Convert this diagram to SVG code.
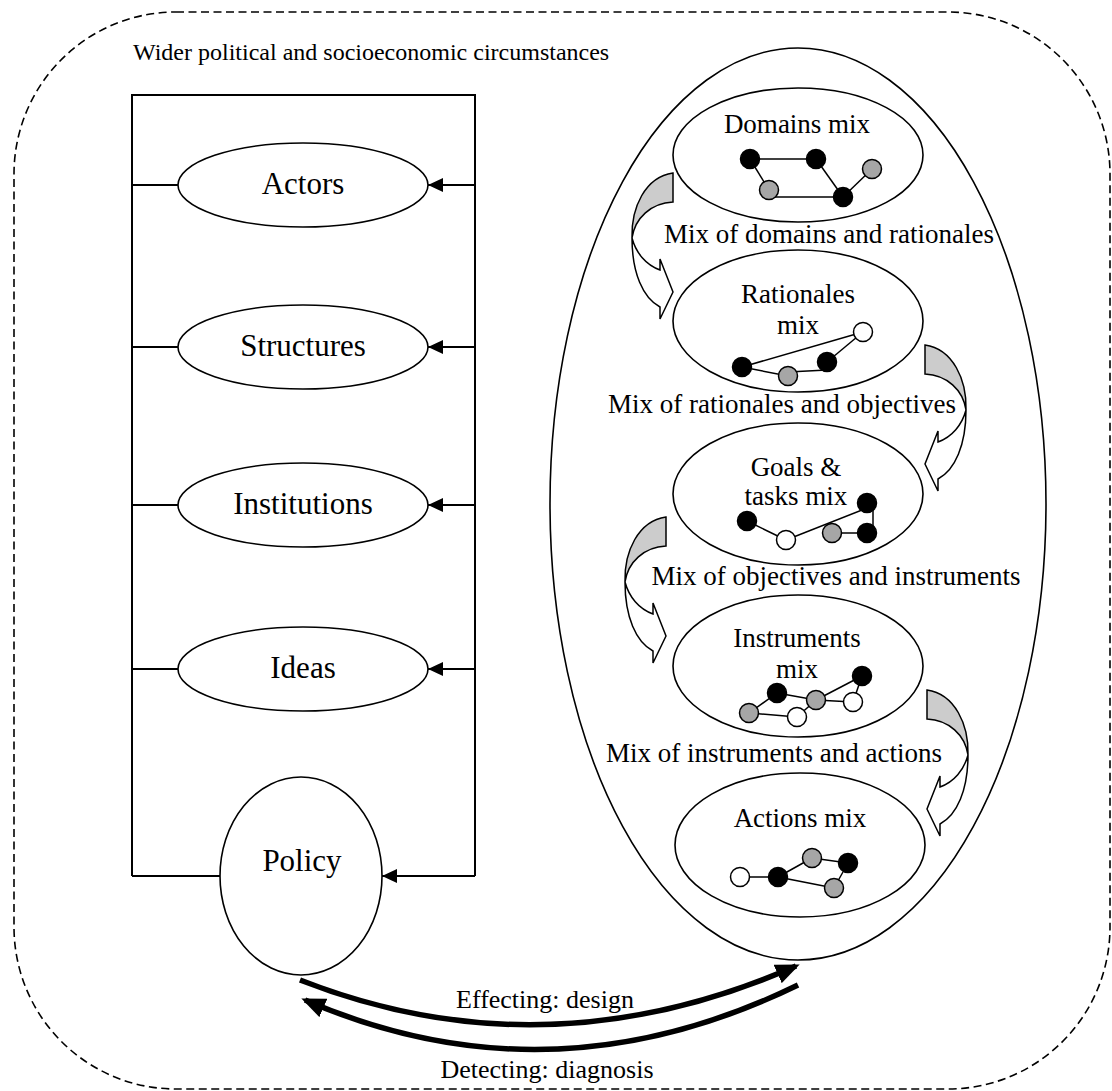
<svg xmlns="http://www.w3.org/2000/svg" width="1112" height="1091" viewBox="0 0 1112 1091">
  <defs>
    <style>
      text { font-family: "Liberation Serif", "Times New Roman", serif; fill: #000; }
      .big { font-size: 31px; text-anchor: middle; }
      .mix { font-size: 27px; text-anchor: middle; }
      .band { font-size: 27px; text-anchor: middle; }
      .cap { font-size: 26px; text-anchor: middle; }
      .outline { fill: #fff; stroke: #000; stroke-width: 1.6; }
      .frame { fill: none; stroke: #000; stroke-width: 2; }
      .link { fill: none; stroke: #000; stroke-width: 2; }
      .edge { stroke: #000; stroke-width: 1.5; }
      .k { fill: #000; stroke: #000; stroke-width: 1.5; }
      .g { fill: #a6a6a6; stroke: #000; stroke-width: 1.5; }
      .w { fill: #fff; stroke: #000; stroke-width: 1.5; }
      .fold { fill: #cccccc; stroke: #000; stroke-width: 1.5; }
      .front { fill: #fff; stroke: #000; stroke-width: 1.5; }
      .loop { fill: none; stroke: #000; stroke-width: 5.5; }
    </style>
    <marker id="tri" markerWidth="15" markerHeight="14" refX="15" refY="7" orient="auto" markerUnits="userSpaceOnUse">
      <path d="M0,0 L15,7 L0,14 Z" fill="#000"/>
    </marker>
    <marker id="bigtri" markerWidth="24" markerHeight="20" refX="20" refY="10" orient="auto" markerUnits="userSpaceOnUse">
      <path d="M0,0 L24,10 L0,20 Z" fill="#000"/>
    </marker>
    <!-- folded curved block arrow, tail at origin, bulging left, head pointing right -->
    <g id="bend">
      <path class="fold" d="M0,0 L0,29 C-22,30 -38,45 -41,65 C-42,35 -28,4 0,0 Z"/>
      <path class="front" d="M-41,65 C-41,100 -30,125 -13,134 L-13,146 L0,119 L-13,86 L-13,97 C-27,92 -37,80 -41,65 Z"/>
    </g>
  </defs>

  <rect width="1112" height="1091" fill="#fff"/>

  <!-- surrounding context -->
  <g id="context">
    <rect x="14" y="12" width="1096" height="1077" rx="162" ry="162" fill="none" stroke="#000" stroke-width="1.6" stroke-dasharray="8,4.5"/>
    <text x="133" y="60" style="font-size:24px">Wider political and socioeconomic circumstances</text>
  </g>

  <!-- connectors -->
  <g id="connectors">
    <path class="frame" d="M132,876 L132,95 L475,95 L475,876"/>
    <path class="link" d="M132,185 H178"/>
    <path class="link" d="M132,347 H178"/>
    <path class="link" d="M132,505 H178"/>
    <path class="link" d="M132,669 H178"/>
    <path class="link" d="M132,876 H220"/>
    <path class="link" d="M475,185 H428" marker-end="url(#tri)"/>
    <path class="link" d="M475,347 H428" marker-end="url(#tri)"/>
    <path class="link" d="M475,505 H428" marker-end="url(#tri)"/>
    <path class="link" d="M475,669 H428" marker-end="url(#tri)"/>
    <path class="link" d="M475,876 H382" marker-end="url(#tri)"/>
    <path class="loop" d="M300,980 Q545,1076 796,966" marker-end="url(#bigtri)"/>
    <path class="loop" d="M798,985 Q550,1106 305,1000" marker-end="url(#bigtri)"/>
    <text class="cap" x="545" y="1008">Effecting: design</text>
    <text class="cap" x="547" y="1078">Detecting: diagnosis</text>
  </g>

  <!-- left column -->
  <g id="actors">
    <ellipse class="outline" cx="303" cy="185" rx="125" ry="42"/>
    <text class="big" x="303" y="194">Actors</text>
  </g>
  <g id="structures">
    <ellipse class="outline" cx="303" cy="347" rx="125" ry="42"/>
    <text class="big" x="303" y="356">Structures</text>
  </g>
  <g id="institutions">
    <ellipse class="outline" cx="303" cy="505" rx="125" ry="42"/>
    <text class="big" x="303" y="514">Institutions</text>
  </g>
  <g id="ideas">
    <ellipse class="outline" cx="303" cy="669" rx="125" ry="42"/>
    <text class="big" x="303" y="678">Ideas</text>
  </g>
  <g id="policy">
    <ellipse class="outline" cx="301" cy="876" rx="81" ry="99"/>
    <text class="big" x="302" y="871">Policy</text>
  </g>

  <!-- policy mix container -->
  <g id="policy-mix">
    <ellipse cx="798" cy="504" rx="248" ry="456" fill="none" stroke="#000" stroke-width="1.6"/>
  </g>

  <g id="domains-mix">
    <ellipse class="outline" cx="798" cy="155" rx="125" ry="67"/>
    <text class="mix" x="797" y="133">Domains mix</text>
    <line class="edge" x1="750" y1="159" x2="816" y2="159"/>
    <line class="edge" x1="750" y1="159" x2="769" y2="190"/>
    <line class="edge" x1="769" y1="197" x2="843" y2="197"/>
    <line class="edge" x1="816" y1="159" x2="843" y2="197"/>
    <line class="edge" x1="843" y1="197" x2="872" y2="169"/>
    <circle class="k" cx="750" cy="159" r="9.5"/>
    <circle class="k" cx="816" cy="159" r="9.5"/>
    <circle class="g" cx="872" cy="169" r="9.5"/>
    <circle class="g" cx="769" cy="190" r="9.5"/>
    <circle class="k" cx="843" cy="197" r="9.5"/>
  </g>

  <g id="rationales-mix">
    <ellipse class="outline" cx="798" cy="321" rx="125" ry="71"/>
    <text class="mix" x="798" y="303">Rationales</text>
    <text class="mix" x="798" y="334">mix</text>
    <line class="edge" x1="742" y1="367" x2="863" y2="332"/>
    <line class="edge" x1="742" y1="367" x2="788" y2="376"/>
    <line class="edge" x1="788" y1="372" x2="827" y2="370"/>
    <line class="edge" x1="827" y1="362" x2="863" y2="332"/>
    <circle class="w" cx="863" cy="332" r="9.5"/>
    <circle class="k" cx="742" cy="367" r="9.5"/>
    <circle class="g" cx="788" cy="376" r="9.5"/>
    <circle class="k" cx="827" cy="362" r="9.5"/>
  </g>

  <g id="goals-tasks-mix">
    <ellipse class="outline" cx="798" cy="494" rx="125" ry="71"/>
    <text class="mix" x="796" y="476">Goals &amp;</text>
    <text class="mix" x="796" y="505">tasks mix</text>
    <line class="edge" x1="747" y1="521" x2="786" y2="540"/>
    <line class="edge" x1="786" y1="540" x2="867" y2="508"/>
    <line class="edge" x1="832" y1="533" x2="867" y2="533"/>
    <line class="edge" x1="873" y1="503" x2="873" y2="533"/>
    <circle class="k" cx="747" cy="521" r="9.5"/>
    <circle class="w" cx="786" cy="540" r="9.5"/>
    <circle class="g" cx="832" cy="533" r="9.5"/>
    <circle class="k" cx="867" cy="533" r="9.5"/>
    <circle class="k" cx="867" cy="503" r="9.5"/>
  </g>

  <g id="instruments-mix">
    <ellipse class="outline" cx="798" cy="666" rx="125" ry="71"/>
    <text class="mix" x="797" y="647">Instruments</text>
    <text class="mix" x="797" y="678">mix</text>
    <line class="edge" x1="749" y1="713" x2="777" y2="693"/>
    <line class="edge" x1="777" y1="693" x2="816" y2="700"/>
    <line class="edge" x1="749" y1="713" x2="797" y2="717"/>
    <line class="edge" x1="797" y1="717" x2="816" y2="700"/>
    <line class="edge" x1="816" y1="700" x2="862" y2="676"/>
    <line class="edge" x1="816" y1="700" x2="853" y2="702"/>
    <line class="edge" x1="853" y1="702" x2="862" y2="676"/>
    <circle class="k" cx="777" cy="693" r="9.5"/>
    <circle class="g" cx="749" cy="713" r="9.5"/>
    <circle class="w" cx="797" cy="717" r="9.5"/>
    <circle class="g" cx="816" cy="700" r="9.5"/>
    <circle class="w" cx="853" cy="702" r="9.5"/>
    <circle class="k" cx="862" cy="676" r="9.5"/>
  </g>

  <g id="actions-mix">
    <ellipse class="outline" cx="800" cy="845" rx="125" ry="72"/>
    <text class="mix" x="800" y="827">Actions mix</text>
    <line class="edge" x1="740" y1="877" x2="778" y2="877"/>
    <line class="edge" x1="778" y1="877" x2="812" y2="858"/>
    <line class="edge" x1="812" y1="858" x2="848" y2="863"/>
    <line class="edge" x1="848" y1="863" x2="834" y2="888"/>
    <line class="edge" x1="778" y1="877" x2="834" y2="888"/>
    <circle class="w" cx="740" cy="877" r="9.5"/>
    <circle class="k" cx="778" cy="877" r="9.5"/>
    <circle class="g" cx="812" cy="858" r="9.5"/>
    <circle class="k" cx="848" cy="863" r="9.5"/>
    <circle class="g" cx="834" cy="888" r="9.5"/>
  </g>

  <!-- transitions between mixes -->
  <g id="transitions">
    <text class="band" x="829" y="243">Mix of domains and rationales</text>
    <text class="band" x="782" y="413">Mix of rationales and objectives</text>
    <text class="band" x="836" y="585">Mix of objectives and instruments</text>
    <text class="band" x="774" y="762">Mix of instruments and actions</text>
    <use href="#bend" transform="translate(673,173)"/>
    <use href="#bend" transform="translate(925,345) scale(-1,1)"/>
    <use href="#bend" transform="translate(666,517)"/>
    <use href="#bend" transform="translate(927,690) scale(-1,1)"/>
  </g>
</svg>
